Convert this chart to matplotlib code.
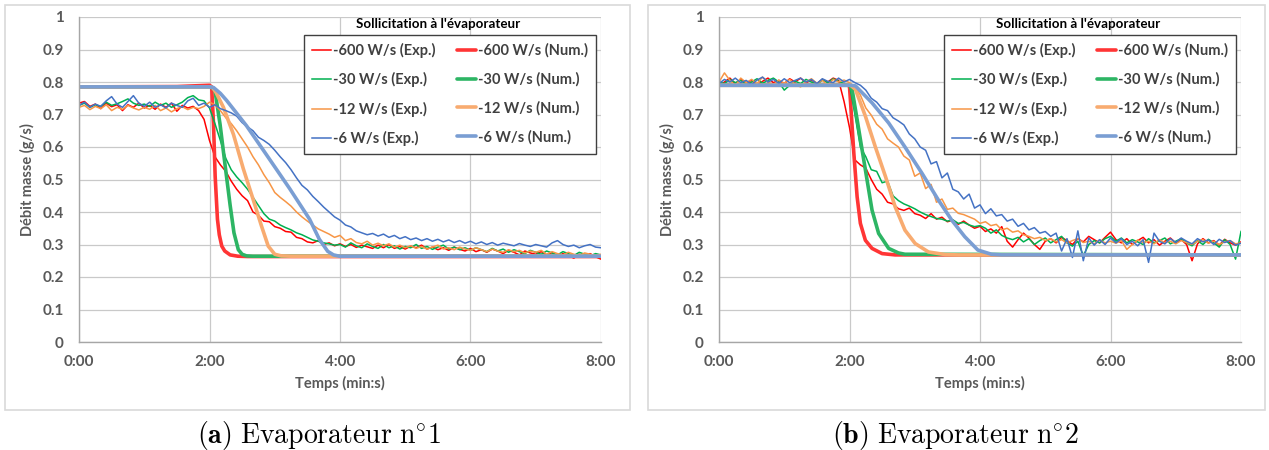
import numpy as np
import matplotlib
matplotlib.use('Agg')
import matplotlib.pyplot as plt
from matplotlib.patches import Rectangle

plt.rcParams['font.family'] = ['Lato', 'DejaVu Sans']
plt.rcParams['mathtext.fontset'] = 'cm'

# temps d'echantillonnage des mesures (s), toutes les 5 s de 0:00 a 8:00
t_exp = np.arange(0, 481, 5)

series_names = ['-600 W/s', '-30 W/s', '-12 W/s', '-6 W/s']
x_ticks = [0, 120, 240, 360, 480]
x_ticklabels = ['0:00', '2:00', '4:00', '6:00', '8:00']
y_ticks = [0, 0.1, 0.2, 0.3, 0.4, 0.5, 0.6, 0.7, 0.8, 0.9, 1]
y_ticklabels = ['0', '0.1', '0.2', '0.3', '0.4', '0.5', '0.6', '0.7', '0.8', '0.9', '1']
captions = [r'$\mathbf{(a)}\ \mathrm{Evaporateur\ n^{\circ}1}$',
            r'$\mathbf{(b)}\ \mathrm{Evaporateur\ n^{\circ}2}$']

# ---- Evaporateur 1 : mesures ----
a_red_exp = [0.735, 0.740, 0.725, 0.732, 0.718, 0.735, 0.724, 0.730, 0.712, 0.730, 0.722, 0.735,
             0.720, 0.728, 0.716, 0.732, 0.722, 0.735, 0.710, 0.728, 0.720, 0.725, 0.712, 0.685,
             0.620, 0.570, 0.545, 0.525, 0.495, 0.470, 0.450, 0.435, 0.400, 0.390, 0.372, 0.370,
             0.355, 0.350, 0.340, 0.338, 0.322, 0.318, 0.308, 0.305, 0.312, 0.300, 0.305, 0.296,
             0.302, 0.294, 0.300, 0.291, 0.298, 0.293, 0.288, 0.298, 0.290, 0.300, 0.288, 0.294,
             0.286, 0.295, 0.290, 0.298, 0.286, 0.292, 0.284, 0.290, 0.282, 0.292, 0.285, 0.280,
             0.288, 0.278, 0.284, 0.276, 0.286, 0.280, 0.272, 0.282, 0.276, 0.268, 0.280, 0.274,
             0.270, 0.278, 0.268, 0.275, 0.262, 0.272, 0.266, 0.258, 0.270, 0.264, 0.272, 0.262,
             0.255]
a_green_exp = [0.728, 0.735, 0.722, 0.730, 0.725, 0.738, 0.728, 0.733, 0.740, 0.748, 0.735, 0.728,
               0.732, 0.725, 0.738, 0.728, 0.735, 0.722, 0.730, 0.738, 0.752, 0.758, 0.745, 0.742,
               0.720, 0.672, 0.620, 0.565, 0.530, 0.508, 0.490, 0.470, 0.445, 0.420, 0.395, 0.378,
               0.372, 0.360, 0.352, 0.345, 0.336, 0.330, 0.322, 0.314, 0.310, 0.305, 0.302, 0.298,
               0.300, 0.292, 0.305, 0.296, 0.290, 0.302, 0.294, 0.288, 0.300, 0.290, 0.296, 0.286,
               0.294, 0.290, 0.300, 0.288, 0.294, 0.285, 0.292, 0.298, 0.286, 0.292, 0.284, 0.290,
               0.282, 0.290, 0.284, 0.278, 0.288, 0.280, 0.286, 0.276, 0.284, 0.278, 0.272, 0.282,
               0.276, 0.270, 0.280, 0.274, 0.268, 0.278, 0.272, 0.266, 0.276, 0.270, 0.265, 0.272,
               0.268]
a_orange_exp = [0.722, 0.728, 0.715, 0.725, 0.718, 0.730, 0.712, 0.722, 0.716, 0.728, 0.720, 0.714,
                0.722, 0.716, 0.728, 0.712, 0.720, 0.708, 0.718, 0.724, 0.715, 0.722, 0.718, 0.725,
                0.738, 0.730, 0.712, 0.690, 0.672, 0.650, 0.625, 0.600, 0.570, 0.545, 0.515, 0.490,
                0.460, 0.445, 0.432, 0.418, 0.400, 0.385, 0.372, 0.360, 0.348, 0.340, 0.332, 0.322,
                0.328, 0.312, 0.318, 0.306, 0.302, 0.310, 0.298, 0.304, 0.296, 0.302, 0.292, 0.298,
                0.290, 0.296, 0.288, 0.294, 0.286, 0.292, 0.298, 0.286, 0.290, 0.284, 0.292, 0.286,
                0.282, 0.290, 0.284, 0.278, 0.286, 0.280, 0.276, 0.284, 0.278, 0.282, 0.274, 0.280,
                0.276, 0.282, 0.270, 0.278, 0.272, 0.268, 0.276, 0.270, 0.266, 0.274, 0.270, 0.265,
                0.270]
a_blue_exp = [0.728, 0.738, 0.722, 0.732, 0.725, 0.742, 0.755, 0.732, 0.722, 0.740, 0.758, 0.735,
              0.725, 0.738, 0.722, 0.730, 0.720, 0.735, 0.728, 0.722, 0.742, 0.750, 0.728, 0.735,
              0.722, 0.730, 0.718, 0.712, 0.705, 0.695, 0.675, 0.662, 0.650, 0.630, 0.620, 0.608,
              0.590, 0.570, 0.552, 0.530, 0.505, 0.482, 0.468, 0.448, 0.432, 0.415, 0.400, 0.385,
              0.375, 0.360, 0.354, 0.342, 0.336, 0.330, 0.334, 0.326, 0.332, 0.322, 0.328, 0.318,
              0.324, 0.315, 0.320, 0.312, 0.318, 0.310, 0.316, 0.308, 0.314, 0.306, 0.312, 0.304,
              0.310, 0.302, 0.308, 0.300, 0.306, 0.298, 0.304, 0.300, 0.296, 0.303, 0.298, 0.294,
              0.300, 0.296, 0.292, 0.305, 0.312, 0.300, 0.294, 0.298, 0.290, 0.296, 0.300, 0.292,
              0.290]

# ---- Evaporateur 1 : simulations ----
a_red_num_t = [0, 90, 120, 122, 123.7, 125.2, 127.3, 129, 131.3, 134, 139, 146, 155, 480]
a_red_num_v = [0.785, 0.786, 0.790, 0.785, 0.670, 0.510, 0.378, 0.330, 0.295, 0.280, 0.268, 0.264, 0.263, 0.263]
a_green_num_t = [0, 120, 122, 125, 129.7, 134.3, 139, 142.5, 146.5, 150, 154, 160, 480]
a_green_num_v = [0.785, 0.785, 0.783, 0.774, 0.670, 0.545, 0.420, 0.336, 0.284, 0.270, 0.265, 0.264, 0.264]
a_orange_num_t = [0, 120, 123, 126, 132.8, 142, 151, 160, 167.8, 174, 180, 186, 195, 480]
a_orange_num_v = [0.785, 0.785, 0.782, 0.768, 0.722, 0.639, 0.534, 0.440, 0.357, 0.295, 0.270, 0.265, 0.264, 0.264]
a_blue_num_t = [0, 120, 123.7, 130, 135.8, 154.1, 172.4, 193.7, 212, 221, 228.7, 234, 239.4, 250, 480]
a_blue_num_v = [0.785, 0.785, 0.783, 0.765, 0.743, 0.665, 0.576, 0.472, 0.378, 0.316, 0.279, 0.268, 0.264, 0.264, 0.264]

# ---- Evaporateur 2 : mesures ----
b_red_exp = [0.785, 0.800, 0.812, 0.795, 0.808, 0.798, 0.805, 0.790, 0.802, 0.812, 0.798, 0.805,
             0.795, 0.810, 0.800, 0.812, 0.798, 0.806, 0.795, 0.808, 0.800, 0.812, 0.805, 0.740,
             0.660, 0.560, 0.545, 0.535, 0.500, 0.470, 0.455, 0.430, 0.425, 0.410, 0.405, 0.412,
             0.395, 0.390, 0.380, 0.395, 0.378, 0.384, 0.370, 0.375, 0.362, 0.372, 0.360, 0.350,
             0.356, 0.340, 0.348, 0.335, 0.355, 0.310, 0.292, 0.315, 0.335, 0.320, 0.300, 0.285,
             0.310, 0.318, 0.305, 0.322, 0.312, 0.300, 0.318, 0.308, 0.325, 0.315, 0.305, 0.322,
             0.338, 0.315, 0.305, 0.318, 0.300, 0.312, 0.322, 0.305, 0.315, 0.298, 0.310, 0.320,
             0.305, 0.315, 0.300, 0.250, 0.302, 0.318, 0.305, 0.312, 0.298, 0.316, 0.305, 0.298,
             0.308]
b_green_exp = [0.800, 0.795, 0.808, 0.798, 0.805, 0.792, 0.800, 0.810, 0.796, 0.805, 0.812, 0.800,
               0.775, 0.790, 0.803, 0.795, 0.808, 0.800, 0.792, 0.806, 0.798, 0.810, 0.802, 0.795,
               0.790, 0.700, 0.600, 0.570, 0.530, 0.525, 0.490, 0.495, 0.450, 0.435, 0.425, 0.418,
               0.410, 0.400, 0.392, 0.386, 0.380, 0.378, 0.372, 0.376, 0.365, 0.368, 0.360, 0.355,
               0.358, 0.350, 0.335, 0.345, 0.328, 0.320, 0.315, 0.322, 0.308, 0.318, 0.300, 0.312,
               0.320, 0.305, 0.315, 0.325, 0.305, 0.295, 0.310, 0.265, 0.300, 0.312, 0.305, 0.318,
               0.325, 0.310, 0.320, 0.305, 0.315, 0.308, 0.300, 0.318, 0.305, 0.312, 0.320, 0.302,
               0.310, 0.318, 0.305, 0.296, 0.312, 0.300, 0.316, 0.305, 0.292, 0.315, 0.300, 0.255,
               0.340]
b_orange_exp = [0.800, 0.828, 0.805, 0.788, 0.812, 0.798, 0.808, 0.795, 0.815, 0.800, 0.792, 0.806,
                0.796, 0.808, 0.792, 0.785, 0.800, 0.810, 0.796, 0.805, 0.790, 0.808, 0.800, 0.806,
                0.798, 0.785, 0.760, 0.720, 0.698, 0.670, 0.655, 0.625, 0.612, 0.600, 0.572, 0.560,
                0.510, 0.520, 0.472, 0.485, 0.430, 0.440, 0.408, 0.412, 0.396, 0.392, 0.385, 0.378,
                0.365, 0.370, 0.358, 0.362, 0.345, 0.350, 0.338, 0.342, 0.330, 0.325, 0.318, 0.322,
                0.312, 0.318, 0.308, 0.315, 0.305, 0.312, 0.318, 0.306, 0.310, 0.302, 0.314, 0.305,
                0.310, 0.304, 0.312, 0.285, 0.300, 0.314, 0.306, 0.310, 0.302, 0.315, 0.306, 0.310,
                0.302, 0.312, 0.306, 0.300, 0.310, 0.315, 0.304, 0.310, 0.300, 0.308, 0.312, 0.302,
                0.305]
b_blue_exp = [0.795, 0.808, 0.800, 0.812, 0.798, 0.805, 0.792, 0.806, 0.815, 0.800, 0.808, 0.796,
              0.810, 0.798, 0.805, 0.812, 0.800, 0.808, 0.795, 0.810, 0.802, 0.798, 0.812, 0.800,
              0.808, 0.798, 0.790, 0.775, 0.750, 0.738, 0.718, 0.712, 0.690, 0.680, 0.668, 0.640,
              0.625, 0.600, 0.590, 0.548, 0.555, 0.505, 0.520, 0.470, 0.462, 0.440, 0.455, 0.412,
              0.422, 0.395, 0.410, 0.388, 0.392, 0.372, 0.378, 0.356, 0.365, 0.345, 0.352, 0.335,
              0.340, 0.325, 0.335, 0.280, 0.318, 0.260, 0.342, 0.250, 0.320, 0.298, 0.315, 0.300,
              0.320, 0.305, 0.318, 0.300, 0.310, 0.296, 0.315, 0.245, 0.335, 0.310, 0.302, 0.318,
              0.306, 0.320, 0.310, 0.302, 0.318, 0.308, 0.314, 0.300, 0.316, 0.306, 0.312, 0.298,
              0.304]

# ---- Evaporateur 2 : simulations ----
b_red_num_t = [0, 119, 120, 121, 124, 127, 130, 134.6, 140.7, 150, 162, 480]
b_red_num_v = [0.790, 0.790, 0.785, 0.736, 0.580, 0.447, 0.365, 0.313, 0.288, 0.272, 0.268, 0.268]
b_green_num_t = [0, 120, 122.4, 128.5, 134.6, 140.7, 146.8, 156, 165, 171, 480]
b_green_num_v = [0.790, 0.790, 0.777, 0.654, 0.530, 0.406, 0.334, 0.288, 0.274, 0.270, 0.268]
b_orange_num_t = [0, 121, 125.5, 134.6, 143.8, 153, 162, 171, 180.4, 192.6, 208, 220, 480]
b_orange_num_v = [0.790, 0.790, 0.777, 0.695, 0.600, 0.510, 0.416, 0.344, 0.303, 0.277, 0.269, 0.268, 0.268]
b_blue_num_t = [0, 121, 125.5, 140.7, 156, 171, 186.5, 201.7, 214, 226, 238, 250.5, 260, 480]
b_blue_num_v = [0.790, 0.790, 0.788, 0.736, 0.674, 0.600, 0.520, 0.437, 0.375, 0.324, 0.283, 0.270, 0.268, 0.268]

exp_colors = ['#FF0000', '#00B050', '#F79646', '#4472C4']
num_colors = ['#FF3535', '#2DB564', '#F8AB70', '#7A9ED3']

panels = [
    ([a_red_exp, a_green_exp, a_orange_exp, a_blue_exp],
     [(a_red_num_t, a_red_num_v), (a_green_num_t, a_green_num_v),
      (a_orange_num_t, a_orange_num_v), (a_blue_num_t, a_blue_num_v)]),
    ([b_red_exp, b_green_exp, b_orange_exp, b_blue_exp],
     [(b_red_num_t, b_red_num_v), (b_green_num_t, b_green_num_v),
      (b_orange_num_t, b_orange_num_v), (b_blue_num_t, b_blue_num_v)]),
]

W, H = 1269, 450
fig = plt.figure(figsize=(W / 100, H / 100), dpi=100)

# cadres gris autour de chaque graphique
for x0, x1 in [(5, 630), (648, 1265)]:
    fig.patches.append(Rectangle((x0 / W, 1 - 410 / H), (x1 - x0) / W, 405 / H,
                                 transform=fig.transFigure, fill=False,
                                 edgecolor='#D9D9D9', linewidth=1.2))

gray = '#595959'
for k, (exps, nums) in enumerate(panels):
    left = [79, 719][k]
    ax = fig.add_axes([left / W, 1 - 342 / H, 522 / W, 325 / H])
    exp_handles, num_handles = [], []
    for i in range(4):
        h1, = ax.plot(t_exp, exps[i], color=exp_colors[i], lw=1.1)
        h2, = ax.plot(nums[i][0], nums[i][1], color=num_colors[i], lw=2.6,
                      solid_capstyle='round')
        exp_handles.append(h1)
        num_handles.append(h2)

    ax.set_xlim(0, 480)
    ax.set_ylim(0, 1)
    ax.set_xticks(x_ticks)
    ax.set_xticklabels(x_ticklabels)
    ax.set_yticks(y_ticks)
    ax.set_yticklabels(y_ticklabels)
    ax.tick_params(length=0, labelsize=11, labelcolor=gray)
    ax.tick_params(axis='y', pad=11)
    ax.tick_params(axis='x', pad=9)
    for lab in ax.get_xticklabels() + ax.get_yticklabels():
        lab.set_fontweight('bold')
    ax.grid(True, color='#C9C9C9', lw=0.9)
    ax.set_axisbelow(True)
    for s in ['top', 'right']:
        ax.spines[s].set_visible(False)
    for s in ['left', 'bottom']:
        ax.spines[s].set_color('#A6A6A6')
        ax.spines[s].set_linewidth(1.0)
    ax.set_ylabel('Débit masse (g/s)', fontsize=10.5, fontweight='bold', color=gray, labelpad=5)
    ax.set_xlabel('Temps (min:s)', fontsize=10.5, fontweight='bold', color=gray, labelpad=5)

    labels = [n + ' (Exp.)' for n in series_names] + [n + ' (Num.)' for n in series_names]
    leg = ax.legend(exp_handles + num_handles, labels, ncol=2, loc='upper right',
                    bbox_to_anchor=(0.99, 0.945), borderaxespad=0, fontsize=10.5,
                    frameon=True, fancybox=False, framealpha=1, edgecolor='#404040',
                    handlelength=1.3, handletextpad=0.12, columnspacing=1.5,
                    labelspacing=0.98, borderpad=0.55)
    leg.get_frame().set_linewidth(1.0)
    for txt in leg.get_texts():
        txt.set_color('#404040')
        txt.set_fontweight('bold')
    ax.text(0.688, 0.978, "Sollicitation à l'évaporateur", transform=ax.transAxes,
            ha='center', va='center', fontsize=9.6, fontweight='bold', color='black')

    fig.text([319, 955][k] / W, 1 - 436 / H, captions[k], ha='center', va='center',
             fontsize=20)

fig.savefig('out.png', dpi=100)
